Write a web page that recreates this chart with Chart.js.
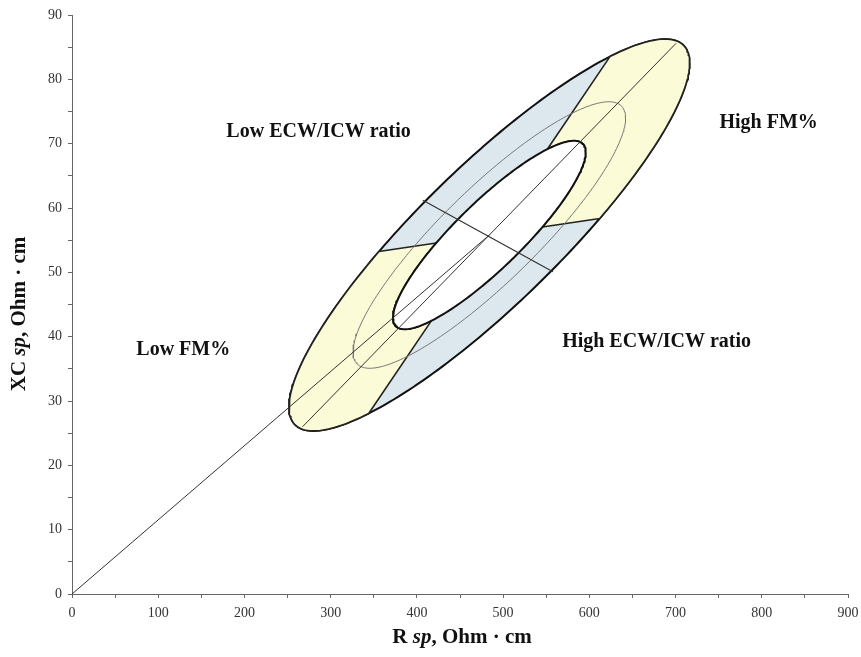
<!DOCTYPE html>
<html>
<head>
<meta charset="utf-8">
<script src="https://cdn.jsdelivr.net/npm/chart.js@4/dist/chart.umd.min.js"></script>
<style>
  html, body { margin: 0; padding: 0; background: #fff; }
  #wrap { width: 861px; height: 657px; position: relative; }
</style>
</head>
<body>
<div id="wrap"><canvas id="graficoBiva"></canvas></div>
<script>
// tolerance ellipses: mean vector, SDs and R/XC correlation
const meanR = 484;
const meanXC = 55.8;
const sdR = 94.9;
const sdXC = 12.44;
const corrRXC = 0.878;
const toleranceLevels = [50, 75, 95];

// straight lines
const vectorR = [0, 484];
const vectorXC = [0, 55.8];
const majorR = [267.4, 700.6];
const majorXC = [26.0, 85.6];
const minorR = [406.9, 557.8];
const minorXC = [61.2, 50.1];

// outer ends of the FM% sector borders (lower edge, upper edge)
const sectorR = [615.8, 622.8];
const sectorXC = [58.45, 83.32];

// text in the plot
const labelText = ["Low ECW/ICW ratio", "High FM%", "Low FM%", "High ECW/ICW ratio"];
const labelR = [286, 808, 129, 678];
const labelXC = [71.8, 73.2, 37.9, 39.2];

const serif = "'Liberation Serif', 'Times New Roman', serif";
const sq = Math.sqrt(1 - corrRXC * corrRXC);
const kOf = p => Math.sqrt(-2 * Math.log(1 - p / 100));

function pontoElipse(k, t) {
  const c = Math.cos(t), s = Math.sin(t);
  return { x: meanR + k * sdR * c, y: meanXC + k * sdXC * (corrRXC * c + sq * s) };
}

function angulo(r, xc) {
  const wx = (r - meanR) / sdR;
  const wy = ((xc - meanXC) - corrRXC * sdXC * wx) / (sdXC * sq);
  return Math.atan2(wy, wx);
}

function elipse(p) {
  const k = kOf(p);
  const pts = [];
  for (let i = 0; i <= 240; i++) pts.push(pontoElipse(k, (i / 240) * 2 * Math.PI));
  return pts;
}

function setor(shift) {
  let t1 = angulo(sectorR[0], sectorXC[0]);
  let t2 = angulo(sectorR[1], sectorXC[1]);
  if (t2 < t1) t2 += 2 * Math.PI;
  const kIn = kOf(toleranceLevels[0]);
  const kOut = kOf(toleranceLevels[2]);
  const pts = [];
  for (let i = 0; i <= 80; i++) pts.push(pontoElipse(kOut, t1 + shift + (t2 - t1) * i / 80));
  for (let i = 80; i >= 0; i--) pts.push(pontoElipse(kIn, t1 + shift + (t2 - t1) * i / 80));
  pts.push(pts[0]);
  return pts;
}

const par = (xs, ys) => xs.map((v, i) => ({ x: v, y: ys[i] }));

const base = { pointRadius: 0, pointHoverRadius: 0, tension: 0, borderJoinStyle: "round" };

const textos = {
  id: "textos",
  afterDatasetsDraw(chart) {
    const { ctx, scales: { x, y } } = chart;
    ctx.save();
    ctx.fillStyle = "#111";
    ctx.textAlign = "center";
    ctx.textBaseline = "middle";
    ctx.font = "bold 20px " + serif;
    labelText.forEach((t, i) => {
      ctx.fillText(t, x.getPixelForValue(labelR[i]), y.getPixelForValue(labelXC[i]));
    });

    const partes = (first) => [
      [first + " ", "bold 21px " + serif],
      ["sp", "italic bold 21px " + serif],
      [", Ohm \u00b7 cm", "bold 21px " + serif]
    ];
    const escrever = (lista, cx, cy) => {
      let total = 0;
      lista.forEach(([t, f]) => { ctx.font = f; total += ctx.measureText(t).width; });
      let px = cx - total / 2;
      ctx.textAlign = "left";
      ctx.textBaseline = "alphabetic";
      lista.forEach(([t, f]) => { ctx.font = f; ctx.fillText(t, px, cy); px += ctx.measureText(t).width; });
    };
    escrever(partes("R"), 462, 643);
    ctx.translate(25, 314);
    ctx.rotate(-Math.PI / 2);
    escrever(partes("XC"), 0, 0);
    ctx.restore();
  }
};

const eixo = (max, step, label) => ({
  type: "linear",
  min: 0,
  max: max,
  ticks: {
    stepSize: step,
    autoSkip: false,
    maxRotation: 0,
    color: "#333",
    padding: label === "x" ? 7 : 6,
    font: { family: serif, size: 14 },
    callback: v => (v % (step * 2) === 0 ? v : "")
  },
  grid: { display: true, drawOnChartArea: false, drawTicks: true, tickLength: 4, tickColor: "#666" },
  border: { display: true, color: "#666", width: 1 },
  afterFit: s => {
    if (label === "x") {
      s.height = 63;
      s.paddingRight = 12;
    } else {
      s.width = 72;
    }
  }
});

new Chart(document.getElementById("graficoBiva"), {
  type: "line",
  data: {
    datasets: [
      { ...base, label: "vector", data: par(vectorR, vectorXC), borderColor: "#333", borderWidth: 1, fill: false, order: 1 },
      { ...base, label: "major", data: par(majorR, majorXC), borderColor: "#333", borderWidth: 1, fill: false, order: 1 },
      { ...base, label: "minor", data: par(minorR, minorXC), borderColor: "#333", borderWidth: 1.2, fill: false, order: 1 },
      { ...base, label: "75%", data: elipse(toleranceLevels[1]), borderColor: "#777", borderWidth: 1, fill: false, order: 2 },
      { ...base, label: "50%", data: elipse(toleranceLevels[0]), borderColor: "#111", borderWidth: 2, backgroundColor: "#ffffff", fill: "shape", order: 3 },
      { ...base, label: "High FM%", data: setor(0), borderColor: "#222", borderWidth: 1.6, backgroundColor: "#fbfbd8", fill: "shape", order: 4 },
      { ...base, label: "Low FM%", data: setor(Math.PI), borderColor: "#222", borderWidth: 1.6, backgroundColor: "#fbfbd8", fill: "shape", order: 4 },
      { ...base, label: "95%", data: elipse(toleranceLevels[2]), borderColor: "#111", borderWidth: 2, backgroundColor: "#dce8ed", fill: "shape", order: 5 }
    ]
  },
  options: {
    responsive: true,
    maintainAspectRatio: false,
    animation: false,
    layout: { padding: { top: 15, right: 13, left: 0, bottom: 0 } },
    plugins: { legend: { display: false }, tooltip: { enabled: false } },
    scales: {
      x: eixo(900, 50, "x"),
      y: eixo(90, 5, "y")
    }
  },
  plugins: [textos]
});
</script>
</body>
</html>
